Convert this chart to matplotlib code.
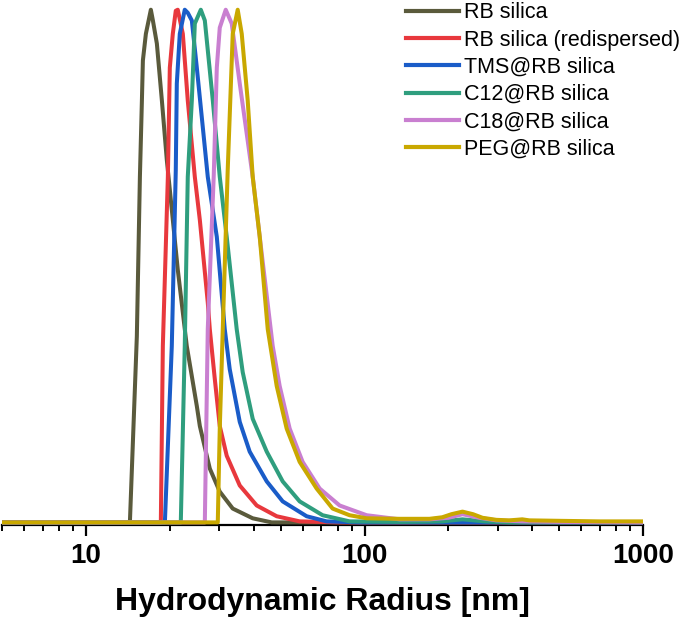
import matplotlib
matplotlib.use("Agg")
import matplotlib.pyplot as plt
from matplotlib.ticker import LogLocator, NullFormatter, FixedLocator, FixedFormatter

# ---- data (hydrodynamic radius in nm, intensity normalised to peak = 100) ----
rb_r = [5, 14.38, 15.23, 15.62, 15.88, 16.01, 16.41, 17.10, 17.39, 17.97, 18.73, 19.51,
        20.00, 21.36, 23.01, 25.00, 25.63, 27.83, 30.22, 33.64, 39.68, 46.42, 1000]
rb_v = [0, 0, 36.3, 67.4, 82.3, 90.1, 95.3, 100, 97.9, 93.4, 82.3, 70.7,
        64.9, 49.3, 34.4, 22.7, 18.8, 10.5, 6.0, 2.7, 0.8, 0, 0]

red_r = [5, 18.57, 18.88, 19.68, 20.00, 20.50, 21.01, 21.36, 22.27, 23.20, 24.59, 25.63,
         27.37, 27.83, 29.00, 30.22, 32.01, 35.65, 41.01, 48.38, 58.48, 81.38, 1000]
red_v = [0, 0, 34.4, 67.4, 88.7, 95.3, 99.8, 100, 95.3, 82.3, 67.4, 59.0,
         42.9, 37.7, 28.0, 18.8, 13.0, 7.2, 3.3, 1.2, 0.2, 0, 0]

tms_r = [5, 19.20, 20.33, 21.01, 21.19, 21.72, 22.63, 23.20, 23.99, 25.00, 27.37, 29.49,
         31.49, 32.81, 35.65, 38.70, 44.55, 50.83, 61.96, 73.08, 96.0, 1000]
tms_v = [0, 0, 34.4, 68.7, 85.6, 95.3, 100, 99.4, 97.9, 88.7, 67.4, 55.7,
         37.7, 29.9, 19.6, 13.8, 8.0, 4.1, 1.2, 0.2, 0, 0]

c12_r = [5, 21.90, 22.63, 23.20, 23.99, 24.59, 25.84, 26.71, 28.53, 30.22, 32.01, 34.76,
         36.53, 39.68, 44.55, 50.83, 58.48, 70.70, 88.35, 133.5, 190.0, 224.6, 270.0, 330.0, 1000]
c12_v = [0, 0, 34.4, 67.4, 82.3, 97.3, 100, 97.9, 82.3, 67.4, 55.7, 37.7,
         29.3, 20.2, 13.8, 8.0, 4.1, 1.4, 0.2, 0.1, 0.2, 0.6, 0.2, 0, 0]

c18_r = [5, 26.71, 27.37, 28.76, 29.49, 30.22, 31.75, 33.36, 35.65, 39.68, 42.05, 46.81,
         49.58, 53.85, 59.95, 69.00, 81.38, 101.7, 133.5, 171.0, 200.0, 224.6, 258.0, 297.0,
         368.0, 500.0, 1000]
c18_v = [0, 0, 37.7, 67.8, 88.7, 96.5, 100, 97.3, 85.6, 67.4, 55.7, 34.4,
         26.6, 18.3, 11.8, 6.6, 3.3, 1.4, 0.6, 0.6, 0.9, 1.6, 0.9, 0.4,
         0.2, 0.1, 0]

peg_r = [5, 29.73, 30.22, 30.98, 32.27, 33.64, 35.05, 36.24, 38.07, 39.68, 42.05, 44.92,
         48.38, 52.53, 58.48, 67.30, 76.79, 88.35, 101.7, 133.5, 171.0, 190.0, 205.0, 224.6,
         245.0, 265.0, 297.0, 330.0, 350.0, 368.0, 390.0, 512.0, 696.0, 1000]
peg_v = [0, 0, 18.3, 37.7, 68.7, 95.3, 100, 95.3, 82.3, 67.4, 55.7, 37.7,
         26.6, 18.3, 11.8, 6.6, 2.7, 1.4, 0.8, 0.7, 0.7, 1.0, 1.6, 2.1,
         1.6, 0.9, 0.5, 0.4, 0.5, 0.6, 0.4, 0.3, 0.2, 0.2]

labels = ["RB silica", "RB silica (redispersed)", "TMS@RB silica",
          "C12@RB silica", "C18@RB silica", "PEG@RB silica"]
colors = ["#5a5a3c", "#e8383d", "#1a5cc8", "#2f9e7e", "#c97fd0", "#c9a800"]
series = [(rb_r, rb_v), (red_r, red_v), (tms_r, tms_v),
          (c12_r, c12_v), (c18_r, c18_v), (peg_r, peg_v)]

xticks = [10, 100, 1000]
xticklabels = ["10", "100", "1000"]

plt.rcParams['font.family'] = ['Liberation Sans', 'DejaVu Sans']

fig = plt.figure(figsize=(6.85, 6.22), dpi=100)
ax = fig.add_axes([0.003, 0.156, 0.936, 0.844])

for (r, v), lab, col in zip(series, labels, colors):
    ax.plot(r, v, color=col, lw=2.9, label=lab, solid_joinstyle='round')

ax.set_xscale('log')
ax.set_xlim(5, 1000)
ax.set_ylim(-0.5, 101.9)

for s in ['left', 'right', 'top']:
    ax.spines[s].set_visible(False)
ax.spines['bottom'].set_linewidth(1.6)
ax.spines['bottom'].set_zorder(0)
ax.set_yticks([])

ax.xaxis.set_major_locator(FixedLocator(xticks))
ax.xaxis.set_major_formatter(FixedFormatter(xticklabels))
ax.xaxis.set_minor_locator(LogLocator(base=10, subs=range(2, 10)))
ax.xaxis.set_minor_formatter(NullFormatter())
ax.tick_params(axis='x', which='major', direction='out', length=8, width=1.6,
               labelsize=20, pad=5)
ax.tick_params(axis='x', which='minor', direction='out', length=4.5, width=1.4)
for t in ax.get_xticklabels():
    t.set_fontweight('bold')

ax.set_xlabel("Hydrodynamic Radius [nm]", fontsize=23, fontweight='bold', labelpad=13)

leg = ax.legend(loc='upper left', bbox_to_anchor=(0.617, 1.012), frameon=False,
                fontsize=15.5, handlelength=2.45, handletextpad=0.23, labelspacing=0.29,
                borderaxespad=0)
for line in leg.get_lines():
    line.set_linewidth(3.0)

fig.savefig("out.png", dpi=100)
